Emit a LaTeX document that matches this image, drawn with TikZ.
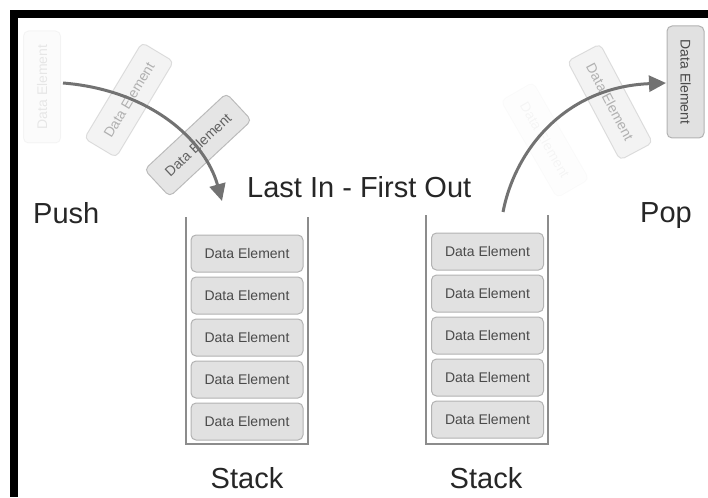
\documentclass[tikz,border=0pt]{standalone}
\usepackage{fontspec}
\setmainfont{Liberation Sans}
\usetikzlibrary{arrows.meta,positioning}
\definecolor{elemfill}{HTML}{E1E1E1}
\definecolor{elemline}{HTML}{B2B2B2}
\definecolor{elemtext}{HTML}{4A4A4A}
\definecolor{wallgray}{HTML}{8C8C8C}
\definecolor{flowgray}{HTML}{727272}
\tikzset{
  elem/.style={draw=elemline,fill=elemfill,line width=1pt,rounded corners=5pt,
    minimum width=112pt,minimum height=37pt,inner sep=0pt,text=elemtext,
    font=\fontsize{14}{16}\selectfont},
  biglabel/.style={inner sep=0pt,text=black!85,font=\fontsize{29}{34}\selectfont},
  wall/.style={draw=wallgray,line width=1.5pt},
  flow/.style={draw=flowgray,line width=3pt,-{Triangle[length=17pt,width=16pt]}},
}
\begin{document}
\begin{tikzpicture}[x=1pt,y=-1pt]
  \useasboundingbox (0,0) rectangle (708,497);
  \fill (10,10) rectangle (708,18);
  \fill (10,10) rectangle (18,497);
  % the two stacks
  \draw[wall] (186,217) |- (308,444) -- (308,217);
  \draw[wall] (426,215) |- (548,444) -- (548,215);
  \foreach \i in {1,...,5} {
    \node[elem] (l\i) at (247,211.5+42*\i) {Data Element};
    \node[elem] (r\i) at (487.5,209.5+42*\i) {Data Element};
  }
  % push side
  \node[elem,rotate=90,opacity=.12] (in1) at (42,87) {Data Element};
  \node[elem,rotate=59,opacity=.4] (in2) at (129,100) {Data Element};
  \node[elem,rotate=43,opacity=.85] (in3) at (198,145) {Data Element};
  % pop side
  \node[elem,rotate=-60,opacity=.05] (out1) at (545,140) {Data Element};
  \node[elem,rotate=-62,opacity=.4] (out2) at (610,102) {Data Element};
  \node[elem,rotate=-90] (out3) at (685.5,82) {Data Element};
  \coordinate (pushfrom) at (63,83);
  \coordinate (pushto) at (222,201);
  \coordinate (popfrom) at (503,212);
  \coordinate (popto) at (666,83);
  \draw[flow] (pushfrom) .. controls (150,90) and (205,140) .. (pushto);
  \draw[flow] (popfrom) .. controls (515,150) and (565,87) .. (popto);
  % labels
  \node[biglabel,anchor=base west] (push) at (33,223) {Push};
  \node[biglabel,anchor=base west] (lifo) at (247,197) {Last In - First Out};
  \node[biglabel,anchor=base west] (pop) at (640,222) {Pop};
  \node[biglabel,anchor=base] (lstack) at (247,488) {Stack};
  \node[biglabel,anchor=base] (rstack) at (486,488) {Stack};
\end{tikzpicture}
\end{document}
